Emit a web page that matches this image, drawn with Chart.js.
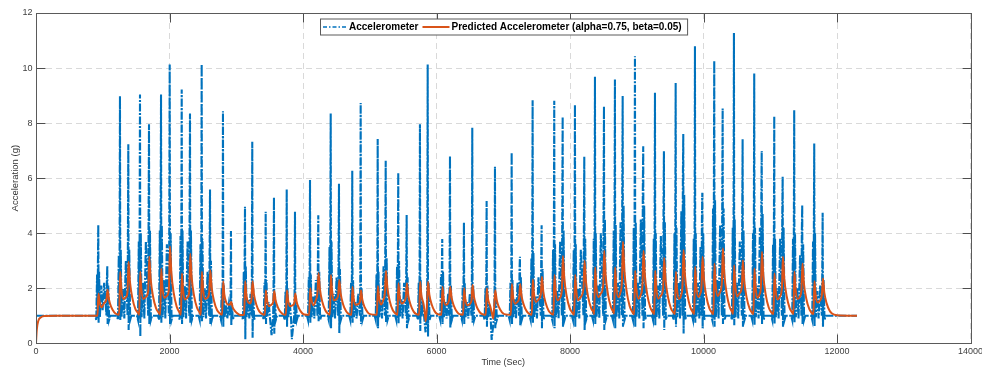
<!DOCTYPE html>
<html>
<head>
<meta charset="utf-8">
<script src="https://cdn.jsdelivr.net/npm/chart.js@4.4.1/dist/chart.umd.min.js"></script>
<style>
  html, body { margin: 0; padding: 0; background: #fff; }
  #wrap { width: 982px; height: 372px; }
</style>
</head>
<body>
<div id="wrap"><canvas id="accelChart"></canvas></div>
<script>
// axis ticks
const timeTicks = [0, 2000, 4000, 6000, 8000, 10000, 12000, 14000];
const accelTicks = [0, 2, 4, 6, 8, 10, 12];

// legend text
const seriesNames = ['Accelerometer', 'Predicted Accelerometer (alpha=0.75, beta=0.05)'];

// measured signal, [time (s), g], one line per burst (two spikes each)
const accelerometer = [
  [0,1.0],
  [888,1.0],[903,0.85],[915,2.5],[923,0.9],[928,2.9],[933,4.3],[938,0.75],[945,2.6],[957,0.95],[978,2.1],[998,1.2],[1021,2.2],[1056,1.0],[1062,2.3],[1068,2.8],[1073,0.7],[1082,2.1],[1096,0.85],[1113,1.0],
  [1213,1.0],[1228,0.85],[1240,3.2],[1248,0.9],[1253,3.8],[1258,8.98],[1263,0.85],[1270,3.4],[1282,0.95],[1303,2.0],[1323,0.9],[1346,3.0],[1371,1.0],[1377,3.8],[1383,7.23],[1388,0.48],[1397,3.4],[1411,0.85],[1428,1.0],
  [1513,1.0],[1528,0.85],[1540,3.7],[1548,0.9],[1553,4.4],[1558,9.04],[1563,0.24],[1570,4.0],[1582,0.95],[1603,2.2],[1623,0.9],[1646,3.7],[1681,1.0],[1687,4.6],[1693,7.96],[1698,0.7],[1707,4.1],[1721,0.85],[1738,1.0],
  [1828,1.0],[1843,0.85],[1855,4.1],[1863,0.9],[1868,4.8],[1873,9.04],[1878,0.75],[1885,4.3],[1897,0.95],[1918,2.3],[1938,0.9],[1961,3.6],[1991,1.0],[1997,4.5],[2003,10.13],[2008,0.7],[2017,4.0],[2031,0.85],[2048,1.0],
  [2138,1.0],[2153,0.85],[2165,3.9],[2173,0.9],[2178,4.6],[2183,9.22],[2188,0.7],[2195,4.1],[2207,0.95],[2228,2.1],[2248,0.9],[2271,3.7],[2295,1.0],[2301,4.6],[2307,8.35],[2312,0.75],[2321,4.1],[2335,0.85],[2352,1.0],
  [2437,1.0],[2452,0.85],[2464,3.6],[2472,0.9],[2477,4.2],[2482,10.14],[2487,0.8],[2494,3.8],[2506,0.95],[2527,2.0],[2547,0.9],[2570,2.6],[2595,1.0],[2601,3.3],[2607,5.59],[2612,0.7],[2621,3.0],[2635,0.85],[2652,1.0],
  [2756,1.0],[2771,0.85],[2783,2.0],[2791,0.9],[2796,2.3],[2801,8.43],[2806,0.6],[2813,2.1],[2825,0.95],[2846,1.4],[2866,0.9],[2889,1.4],[2909,1.0],[2915,1.6],[2921,4.08],[2926,0.65],[2935,1.45],[2949,0.85],[2966,1.0],
  [3086,1.0],[3101,0.85],[3113,2.6],[3121,0.9],[3126,3.1],[3131,4.96],[3136,0.15],[3143,2.8],[3155,0.95],[3176,1.6],[3196,0.9],[3214,1.8],[3228,1.0],[3234,2.2],[3240,7.32],[3245,0.2],[3254,2.0],[3268,0.85],[3285,1.0],
  [3396,1.0],[3411,0.85],[3423,2.2],[3431,0.9],[3436,2.6],[3441,4.78],[3446,0.7],[3453,2.3],[3465,0.95],[3486,1.5],[3506,0.9],[3529,0.3],[3553,1.0],[3559,2.0],[3565,5.3],[3570,0.35],[3579,1.8],[3593,0.85],[3610,1.0],
  [3711,1.0],[3726,0.85],[3738,1.9],[3746,0.9],[3751,2.2],[3756,5.59],[3761,0.6],[3768,2.0],[3780,0.95],[3801,1.5],[3821,0.9],[3833,0.15],[3868,1.0],[3874,1.9],[3880,4.78],[3885,0.7],[3894,1.7],[3908,0.85],[3925,1.0],
  [4060,1.0],[4075,0.85],[4087,2.4],[4095,0.9],[4100,2.8],[4105,5.93],[4110,0.75],[4117,2.5],[4129,0.95],[4150,1.7],[4170,0.9],[4193,2.3],[4217,1.0],[4223,2.9],[4229,4.65],[4234,0.8],[4243,2.6],[4257,0.85],[4274,1.0],
  [4370,1.0],[4385,0.85],[4397,3.5],[4405,0.9],[4410,4.1],[4415,8.35],[4420,0.55],[4427,3.7],[4439,0.95],[4460,1.8],[4480,0.9],[4503,2.4],[4527,1.0],[4533,3.0],[4539,5.8],[4544,0.37],[4553,2.7],[4567,0.85],[4584,1.0],
  [4693,1.0],[4708,0.85],[4720,2.2],[4728,0.9],[4733,2.6],[4738,6.27],[4743,0.75],[4750,2.3],[4762,0.95],[4783,1.5],[4803,0.9],[4826,1.8],[4852,1.0],[4858,2.2],[4864,8.73],[4869,0.7],[4878,2.0],[4892,0.85],[4909,1.0],
  [5074,1.0],[5089,0.85],[5101,2.5],[5109,0.9],[5114,2.9],[5119,7.42],[5124,0.55],[5131,2.6],[5143,0.95],[5164,1.6],[5184,0.9],[5207,2.8],[5227,1.0],[5233,3.5],[5239,6.63],[5244,0.75],[5253,3.1],[5267,0.85],[5284,1.0],
  [5382,1.0],[5397,0.85],[5409,2.8],[5417,0.9],[5422,3.3],[5427,6.2],[5432,0.73],[5439,3.0],[5451,0.95],[5472,1.6],[5492,0.9],[5515,2.2],[5541,1.0],[5547,2.7],[5553,4.66],[5558,0.55],[5567,2.4],[5581,0.85],[5598,1.0],
  [5707,1.0],[5722,0.85],[5734,2.2],[5742,0.9],[5747,2.6],[5752,7.96],[5757,0.45],[5764,2.3],[5776,0.95],[5797,1.5],[5817,0.9],[5836,0.4],[5856,1.0],[5862,2.4],[5868,10.13],[5873,0.24],[5882,2.2],[5896,0.85],[5913,1.0],
  [6041,1.0],[6056,0.85],[6068,2.5],[6076,0.9],[6081,2.9],[6086,3.79],[6091,0.7],[6098,2.6],[6110,0.95],[6131,1.5],[6151,0.9],[6174,1.8],[6190,1.0],[6196,2.3],[6202,6.8],[6207,0.55],[6216,2.1],[6230,0.85],[6247,1.0],
  [6366,1.0],[6381,0.85],[6393,2.1],[6401,0.9],[6406,2.5],[6411,4.39],[6416,0.7],[6423,2.2],[6435,0.95],[6456,1.5],[6476,0.9],[6499,1.8],[6524,1.0],[6530,2.3],[6536,7.83],[6541,0.75],[6550,2.1],[6564,0.85],[6581,1.0],
  [6706,1.0],[6721,0.85],[6733,2.0],[6741,0.9],[6746,2.3],[6751,5.17],[6756,0.6],[6763,2.1],[6775,0.95],[6796,1.4],[6812,0.9],[6826,0.12],[6864,1.0],[6870,2.0],[6876,6.41],[6881,0.55],[6890,1.8],[6904,0.85],[6921,1.0],
  [7081,1.0],[7096,0.85],[7108,2.2],[7116,0.9],[7121,2.6],[7126,6.93],[7131,0.7],[7138,2.3],[7150,0.95],[7171,1.6],[7191,0.9],[7214,2.2],[7238,1.0],[7244,2.7],[7250,3.14],[7255,0.66],[7264,2.4],[7278,0.85],[7295,1.0],
  [7395,1.0],[7410,0.85],[7422,3.1],[7430,0.9],[7435,3.7],[7440,8.83],[7445,0.75],[7452,3.3],[7464,0.95],[7485,1.7],[7505,0.9],[7528,2.4],[7563,1.0],[7569,3.0],[7575,4.29],[7580,0.55],[7589,2.7],[7603,0.85],[7620,1.0],
  [7719,1.0],[7734,0.85],[7746,3.4],[7754,0.9],[7759,4.0],[7764,8.81],[7769,0.55],[7776,3.6],[7788,0.95],[7809,1.9],[7829,0.9],[7852,3.7],[7878,1.0],[7884,4.6],[7890,8.23],[7895,0.6],[7904,4.1],[7918,0.85],[7935,1.0],
  [8029,1.0],[8044,0.85],[8056,3.4],[8064,0.9],[8069,4.0],[8074,8.67],[8079,0.6],[8086,3.6],[8098,0.95],[8119,2.0],[8139,0.9],[8162,3.4],[8202,1.0],[8208,4.2],[8214,6.78],[8219,0.48],[8228,3.8],[8242,0.85],[8259,1.0],
  [8329,1.0],[8344,0.85],[8356,3.8],[8364,0.9],[8369,4.5],[8374,9.68],[8379,0.7],[8386,4.0],[8398,0.95],[8419,2.1],[8439,0.9],[8462,4.0],[8497,1.0],[8503,5.0],[8509,8.61],[8514,0.48],[8523,4.5],[8537,0.85],[8554,1.0],
  [8628,1.0],[8643,0.85],[8655,4.1],[8663,0.9],[8668,4.8],[8673,9.58],[8678,0.55],[8685,4.3],[8697,0.95],[8718,2.2],[8738,0.9],[8757,4.4],[8777,1.0],[8783,5.5],[8789,8.98],[8794,0.6],[8803,5.0],[8817,0.85],[8834,1.0],
  [8928,1.0],[8943,0.85],[8955,4.2],[8963,0.9],[8968,4.9],[8973,10.43],[8978,0.6],[8985,4.4],[8997,0.95],[9018,2.2],[9038,0.9],[9061,4.5],[9085,1.0],[9091,5.6],[9097,7.16],[9102,0.55],[9111,5.0],[9125,0.85],[9142,1.0],
  [9228,1.0],[9243,0.85],[9255,3.8],[9263,0.9],[9268,4.5],[9273,9.1],[9278,0.66],[9285,4.0],[9297,0.95],[9318,2.1],[9338,0.9],[9361,3.9],[9395,1.0],[9401,4.9],[9407,6.98],[9412,0.48],[9421,4.4],[9435,0.85],[9452,1.0],
  [9538,1.0],[9553,0.85],[9565,4.0],[9573,0.9],[9578,4.7],[9583,9.46],[9588,0.6],[9595,4.2],[9607,0.95],[9628,2.2],[9648,0.9],[9668,4.8],[9685,1.0],[9691,6.0],[9697,7.6],[9702,0.36],[9711,5.4],[9725,0.85],[9742,1.0],
  [9827,1.0],[9842,0.85],[9854,3.8],[9862,0.9],[9867,4.5],[9872,10.79],[9877,0.75],[9884,4.0],[9896,0.95],[9917,2.2],[9937,0.9],[9955,3.5],[9970,1.0],[9976,4.4],[9982,5.47],[9987,0.55],[9996,4.0],[10010,0.85],[10027,1.0],
  [10116,1.0],[10131,0.85],[10143,4.9],[10151,0.9],[10156,5.8],[10161,10.26],[10166,0.6],[10173,5.2],[10185,0.95],[10206,2.3],[10226,0.9],[10249,4.3],[10275,1.0],[10281,5.4],[10287,8.53],[10292,0.7],[10301,4.9],[10315,0.85],[10332,1.0],
  [10411,1.0],[10426,0.85],[10438,4.2],[10446,0.9],[10451,5.0],[10456,11.27],[10461,0.66],[10468,4.5],[10480,0.95],[10501,2.2],[10521,0.9],[10544,3.7],[10574,1.0],[10580,4.6],[10586,7.41],[10591,0.6],[10600,4.1],[10614,0.85],[10631,1.0],
  [10715,1.0],[10730,0.85],[10742,4.0],[10750,0.9],[10755,4.7],[10760,9.8],[10765,0.66],[10772,4.2],[10784,0.95],[10805,2.1],[10825,0.9],[10845,4.2],[10860,1.0],[10866,5.2],[10872,6.99],[10877,0.7],[10886,4.7],[10900,0.85],[10917,1.0],
  [11015,1.0],[11030,0.85],[11042,3.6],[11050,0.9],[11055,4.2],[11060,8.25],[11065,0.7],[11072,3.8],[11084,0.95],[11105,2.0],[11125,0.9],[11148,3.8],[11174,1.0],[11180,4.7],[11186,6.05],[11191,0.6],[11200,4.2],[11214,0.85],[11231,1.0],
  [11314,1.0],[11329,0.85],[11341,3.8],[11349,0.9],[11354,4.5],[11359,8.47],[11364,0.75],[11371,4.0],[11383,0.95],[11404,2.0],[11424,0.9],[11447,3.2],[11467,1.0],[11473,4.0],[11479,5.02],[11484,0.7],[11493,3.6],[11507,0.85],[11524,1.0],
  [11614,1.0],[11629,0.85],[11641,3.7],[11649,0.9],[11654,4.4],[11659,7.26],[11664,0.6],[11671,4.0],[11683,0.95],[11704,1.9],[11724,0.9],[11747,2.1],[11773,1.0],[11779,2.6],[11785,4.74],[11790,0.6],[11799,2.3],[11813,0.85],[11830,1.0],
  [12300,1.0]
];

// alpha-beta filter output, [time (s), g]
const predicted = [
  [0,0.02],[12,0.5],[35,0.82],[70,0.94],[140,0.99],[300,1.0],
  [921,1.0],[936,1.81],[953,1.5],[983,1.31],[1018,1.45],[1056,1.6],[1072,1.95],[1093,1.59],[1128,1.31],[1173,1.12],[1208,1.06],
  [1246,1.04],[1261,2.6],[1278,1.99],[1308,1.61],[1343,1.67],[1371,1.88],[1387,2.96],[1408,2.22],[1443,1.65],[1488,1.25],[1523,1.12],
  [1546,1.04],[1561,2.6],[1578,1.99],[1608,1.61],[1643,1.68],[1681,1.9],[1697,3.14],[1718,2.33],[1753,1.71],[1798,1.28],[1833,1.13],
  [1861,1.04],[1876,2.72],[1893,2.07],[1923,1.65],[1958,1.72],[1991,1.95],[2007,3.53],[2028,2.57],[2063,1.83],[2108,1.33],[2143,1.15],
  [2171,1.04],[2186,2.54],[2203,1.95],[2233,1.59],[2268,1.66],[2295,1.85],[2311,3.25],[2332,2.4],[2367,1.74],[2412,1.29],[2447,1.14],
  [2470,1.04],[2485,2.6],[2502,1.99],[2532,1.61],[2567,1.65],[2595,1.85],[2611,2.65],[2632,2.02],[2667,1.54],[2712,1.21],[2747,1.1],
  [2789,1.04],[2804,2.25],[2821,1.78],[2851,1.48],[2886,1.4],[2909,1.42],[2925,1.5],[2946,1.31],[2981,1.17],[3026,1.07],[3061,1.03],
  [3119,1.04],[3134,2.25],[3151,1.78],[3181,1.48],[3206,1.45],[3228,1.6],[3244,2.25],[3265,1.78],[3300,1.41],[3345,1.16],[3380,1.08],
  [3429,1.04],[3444,1.93],[3461,1.58],[3491,1.35],[3526,1.4],[3553,1.5],[3569,1.9],[3590,1.56],[3625,1.3],[3670,1.12],[3705,1.05],
  [3744,1.04],[3759,1.93],[3776,1.58],[3806,1.35],[3841,1.38],[3868,1.45],[3884,1.81],[3905,1.5],[3940,1.27],[3985,1.1],[4020,1.05],
  [4093,1.04],[4108,2.0],[4125,1.62],[4155,1.38],[4190,1.55],[4217,1.85],[4233,2.55],[4254,1.96],[4289,1.51],[4334,1.2],[4369,1.09],
  [4403,1.04],[4418,2.48],[4435,1.92],[4465,1.56],[4500,1.6],[4527,1.75],[4543,2.3],[4564,1.81],[4599,1.43],[4644,1.17],[4679,1.08],
  [4726,1.04],[4741,2.05],[4758,1.65],[4788,1.4],[4823,1.42],[4852,1.5],[4868,1.93],[4889,1.58],[4924,1.31],[4969,1.12],[5004,1.06],
  [5107,1.04],[5122,2.08],[5139,1.67],[5169,1.41],[5199,1.55],[5227,1.85],[5243,2.64],[5264,2.02],[5299,1.54],[5344,1.21],[5379,1.1],
  [5415,1.04],[5430,2.18],[5447,1.73],[5477,1.45],[5512,1.5],[5541,1.7],[5557,2.18],[5578,1.73],[5613,1.39],[5658,1.15],[5693,1.07],
  [5740,1.04],[5755,2.24],[5772,1.77],[5802,1.47],[5825,1.1],[5838,0.8],[5856,1.3],[5872,2.24],[5893,1.77],[5928,1.41],[5973,1.16],[6008,1.07],
  [6074,1.04],[6089,2.05],[6106,1.65],[6136,1.4],[6171,1.45],[6190,1.6],[6206,2.05],[6227,1.65],[6262,1.35],[6307,1.14],[6342,1.06],
  [6399,1.04],[6414,2.0],[6431,1.62],[6461,1.38],[6496,1.42],[6524,1.55],[6540,2.12],[6561,1.69],[6596,1.37],[6641,1.15],[6676,1.07],
  [6739,1.04],[6754,2.0],[6771,1.62],[6801,1.38],[6830,1.1],[6850,0.9],[6864,1.3],[6880,1.93],[6901,1.58],[6936,1.31],[6981,1.12],[7016,1.06],
  [7114,1.04],[7129,2.15],[7146,1.71],[7176,1.44],[7211,1.5],[7238,1.65],[7254,2.15],[7275,1.71],[7310,1.38],[7355,1.15],[7390,1.07],
  [7428,1.04],[7443,2.32],[7460,1.82],[7490,1.5],[7525,1.58],[7563,1.8],[7579,2.42],[7600,1.88],[7635,1.47],[7680,1.18],[7715,1.09],
  [7752,1.04],[7767,2.48],[7784,1.92],[7814,1.56],[7849,1.65],[7878,1.95],[7894,3.17],[7915,2.35],[7950,1.72],[7995,1.28],[8030,1.13],
  [8062,1.04],[8077,2.48],[8094,1.92],[8124,1.56],[8159,1.68],[8202,2.0],[8218,3.0],[8239,2.24],[8274,1.66],[8319,1.26],[8354,1.12],
  [8362,1.06],[8377,2.76],[8394,2.09],[8424,1.67],[8459,1.8],[8497,2.1],[8513,3.36],[8534,2.46],[8569,1.78],[8614,1.31],[8649,1.14],
  [8661,1.08],[8676,2.76],[8693,2.09],[8723,1.67],[8755,1.85],[8777,2.2],[8793,3.69],[8814,2.67],[8849,1.89],[8894,1.35],[8929,1.16],
  [8961,1.06],[8976,2.64],[8993,2.02],[9023,1.62],[9058,1.75],[9085,2.1],[9101,3.36],[9122,2.46],[9157,1.78],[9202,1.31],[9237,1.14],
  [9261,1.06],[9276,2.64],[9293,2.02],[9323,1.62],[9358,1.72],[9395,2.0],[9411,3.1],[9432,2.3],[9467,1.69],[9512,1.27],[9547,1.13],
  [9571,1.06],[9586,2.6],[9603,1.99],[9633,1.61],[9665,1.75],[9685,2.1],[9701,3.39],[9722,2.48],[9757,1.79],[9802,1.31],[9837,1.14],
  [9860,1.06],[9875,2.78],[9892,2.1],[9922,1.68],[9950,1.8],[9970,2.05],[9986,3.14],[10007,2.33],[10042,1.71],[10087,1.28],[10122,1.13],
  [10149,1.06],[10164,2.9],[10181,2.18],[10211,1.72],[10246,1.85],[10275,2.2],[10291,3.45],[10312,2.52],[10347,1.81],[10392,1.32],[10427,1.15],
  [10444,1.07],[10459,2.84],[10476,2.14],[10506,1.7],[10541,1.82],[10574,2.05],[10590,3.02],[10611,2.25],[10646,1.67],[10691,1.26],[10726,1.12],
  [10748,1.06],[10763,2.72],[10780,2.07],[10810,1.65],[10840,1.78],[10860,2.05],[10876,3.33],[10897,2.44],[10932,1.77],[10977,1.3],[11012,1.14],
  [11048,1.06],[11063,2.54],[11080,1.95],[11110,1.59],[11145,1.7],[11174,2.0],[11190,3.14],[11211,2.33],[11246,1.71],[11291,1.28],[11326,1.13],
  [11347,1.06],[11362,2.6],[11379,1.99],[11409,1.61],[11444,1.7],[11467,1.95],[11483,2.9],[11504,2.18],[11539,1.63],[11584,1.25],[11619,1.11],
  [11647,1.06],[11662,2.25],[11679,1.78],[11709,1.48],[11744,1.55],[11773,1.75],[11789,2.35],[11810,1.84],[11845,1.45],[11890,1.18],[11925,1.08],[12000,1.02],[12300,1.0]
];

const blue = '#0072BD';
const orange = '#D95319';
const fontFamily = "'Liberation Sans', Arial, Helvetica, sans-serif";
const tickLen = 9;

// matlab style box: ticks inside on all four sides, closed frame, legend inside the axes
const matlabFrame = {
  id: 'matlabFrame',
  afterDraw(chart) {
    const {ctx, chartArea: a, scales: {x, y}} = chart;
    const L = Math.round(a.left) + 0.5, R = Math.round(a.right) + 0.5;
    const T = Math.round(a.top) + 0.5, B = Math.round(a.bottom) + 0.5;
    ctx.save();
    ctx.lineWidth = 1;
    ctx.strokeStyle = '#4d4d4d';
    ctx.beginPath();
    timeTicks.forEach(v => {
      const px = Math.round(x.getPixelForValue(v)) + 0.5;
      ctx.moveTo(px, B); ctx.lineTo(px, B - tickLen);
      ctx.moveTo(px, T); ctx.lineTo(px, T + tickLen);
    });
    accelTicks.forEach(v => {
      const py = Math.round(y.getPixelForValue(v)) + 0.5;
      ctx.moveTo(L, py); ctx.lineTo(L + tickLen, py);
      ctx.moveTo(R, py); ctx.lineTo(R - tickLen, py);
    });
    ctx.stroke();
    ctx.strokeStyle = '#5a5a5a';
    ctx.strokeRect(L, T, R - L, B - T);

    // legend
    ctx.font = 'bold 10px ' + fontFamily;
    const w0 = ctx.measureText(seriesNames[0]).width;
    const w1 = ctx.measureText(seriesNames[1]).width;
    const lw = 2.5 + 24 + 2 + w0 + 4 + 27 + 2 + w1 + 6;
    const lx = Math.round((a.left + a.right) / 2 - lw / 2) + 0.5;
    const ly = T + 5.5, lh = 16;
    const my = ly + lh / 2;
    ctx.fillStyle = '#fff';
    ctx.fillRect(lx, ly, lw, lh);
    ctx.strokeStyle = '#5a5a5a';
    ctx.strokeRect(lx, ly, lw, lh);
    let cx = lx + 2.5;
    ctx.beginPath();
    ctx.strokeStyle = blue;
    ctx.lineWidth = 1.5;
    ctx.setLineDash([4, 2, 1.5, 2]);
    ctx.moveTo(cx, my); ctx.lineTo(cx + 24, my);
    ctx.stroke();
    ctx.setLineDash([]);
    cx += 26;
    ctx.fillStyle = '#000';
    ctx.textBaseline = 'middle';
    ctx.textAlign = 'left';
    ctx.fillText(seriesNames[0], cx, my + 0.5);
    cx += w0 + 4;
    ctx.beginPath();
    ctx.strokeStyle = orange;
    ctx.lineWidth = 2;
    ctx.moveTo(cx, my); ctx.lineTo(cx + 27, my);
    ctx.stroke();
    cx += 29;
    ctx.fillText(seriesNames[1], cx, my + 0.5);
    ctx.restore();
  }
};

const tickFont = {family: fontFamily, size: 9};

new Chart(document.getElementById('accelChart'), {
  type: 'line',
  data: {
    datasets: [{
      label: seriesNames[0],
      data: accelerometer.map(([t, g]) => ({x: t, y: g})),
      borderColor: blue,
      borderWidth: 2.1,
      borderDash: [8, 1.5, 2, 1.5],
      pointRadius: 0,
      order: 1
    }, {
      label: seriesNames[1],
      data: predicted.map(([t, g]) => ({x: t, y: g})),
      borderColor: orange,
      borderWidth: 2,
      pointRadius: 0,
      cubicInterpolationMode: 'monotone',
      order: 0
    }]
  },
  options: {
    responsive: true,
    maintainAspectRatio: false,
    animation: false,
    layout: {padding: {left: 0, right: 11.5, top: 13, bottom: 0}},
    plugins: {legend: {display: false}, tooltip: {enabled: false}},
    scales: {
      x: {
        type: 'linear',
        min: timeTicks[0],
        max: timeTicks[timeTicks.length - 1],
        ticks: {stepSize: 2000, color: '#404040', font: tickFont, padding: 3.3, maxRotation: 0, autoSkip: false, callback: v => String(v)},
        grid: {color: '#d9d9d9', lineWidth: 1, drawTicks: false},
        border: {display: false, dash: [6, 4]},
        title: {display: true, text: 'Time (Sec)', color: '#333', font: {family: fontFamily, size: 9}, padding: {top: 0, bottom: 3.6}},
        afterFit: s => { s.height = 28.7; s.paddingLeft = 0; s.paddingRight = 0; }
      },
      y: {
        min: accelTicks[0],
        max: accelTicks[accelTicks.length - 1],
        ticks: {stepSize: 2, color: '#404040', font: tickFont, padding: 3.5, callback: v => String(v)},
        grid: {color: '#d9d9d9', lineWidth: 1, drawTicks: false},
        border: {display: false, dash: [6, 4]},
        title: {display: true, text: 'Acceleration (g)', color: '#333', font: {family: fontFamily, size: 9.5}, padding: {top: 9.3, bottom: 0}},
        afterFit: s => { s.width = 36; }
      }
    }
  },
  plugins: [matlabFrame]
});
</script>
</body>
</html>
